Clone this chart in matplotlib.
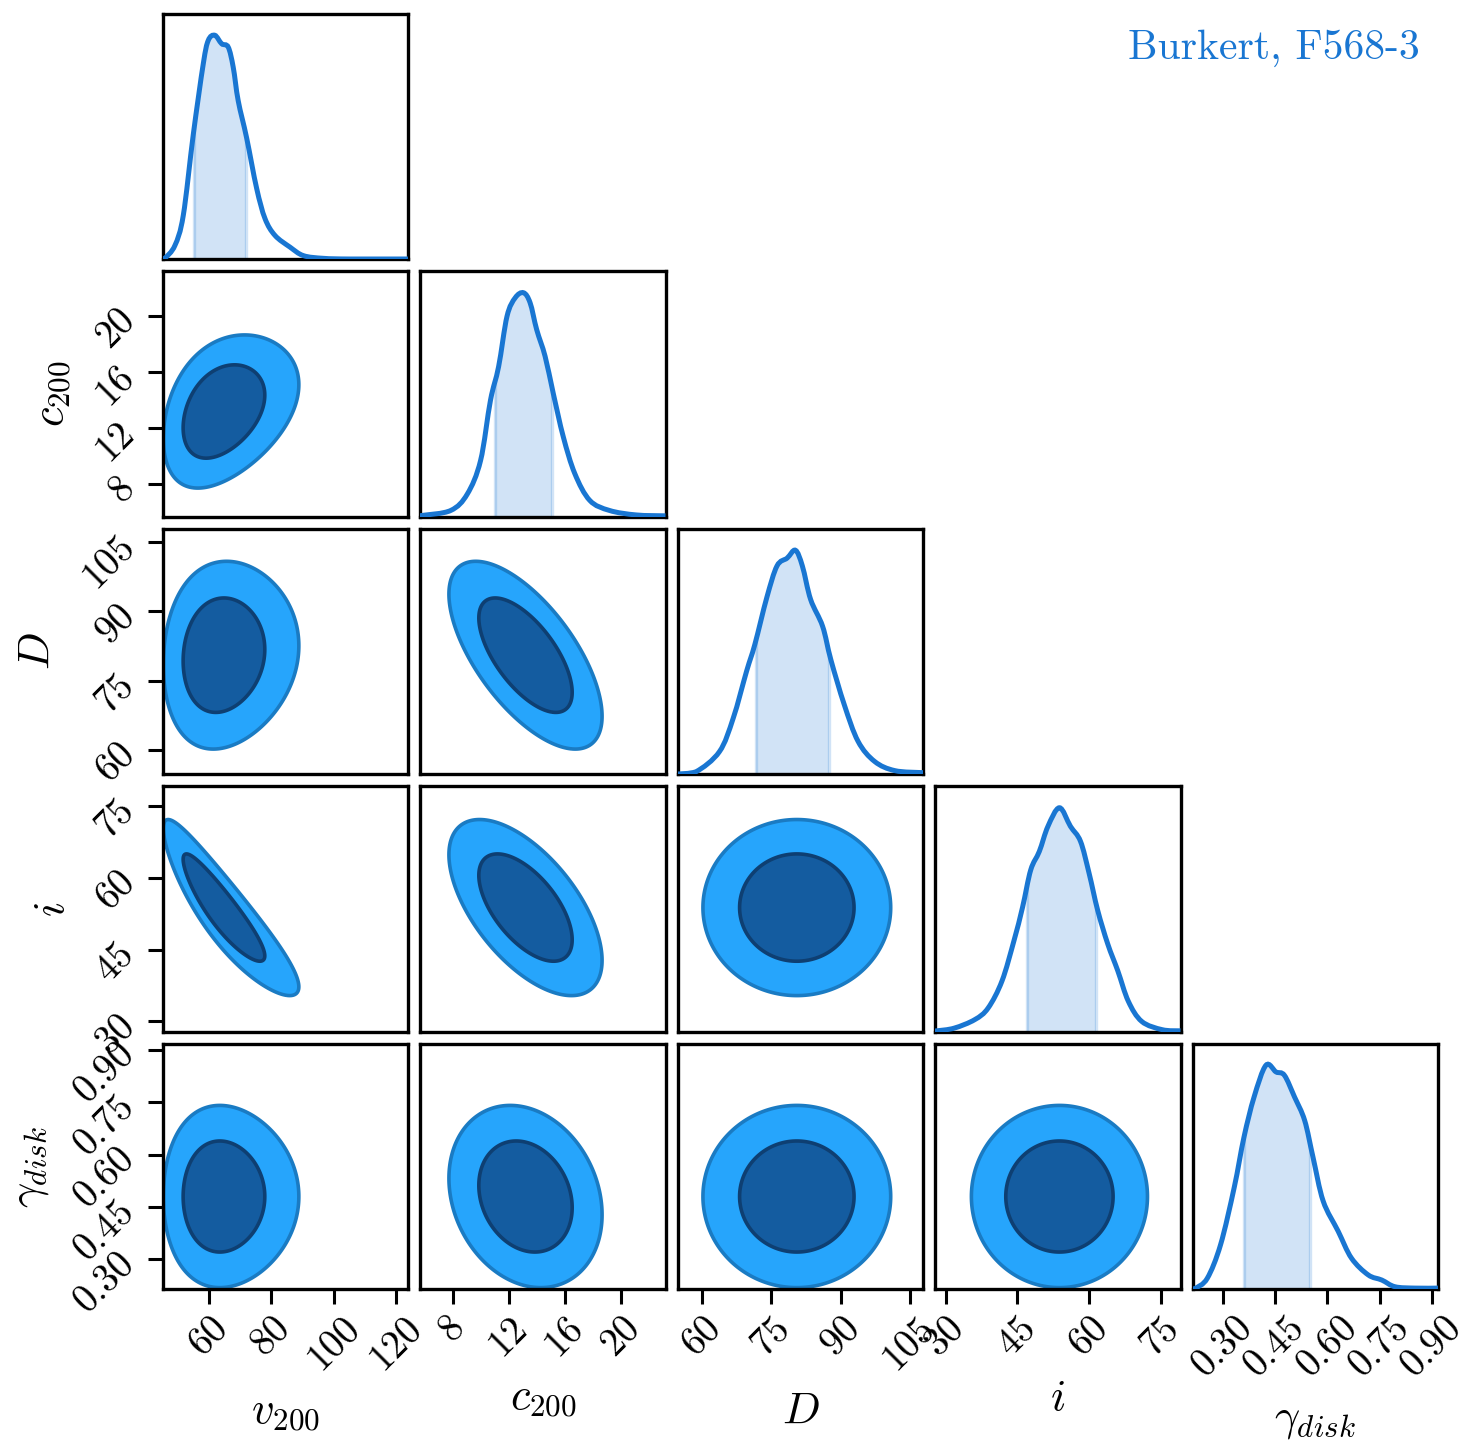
import numpy as np
import matplotlib
matplotlib.use("Agg")
import matplotlib.pyplot as plt
from matplotlib.patches import Rectangle, PathPatch
from matplotlib.path import Path

plt.rcParams['font.family'] = 'serif'
plt.rcParams['font.serif'] = ['cmr10', 'DejaVu Serif']
plt.rcParams['mathtext.fontset'] = 'cm'
plt.rcParams['axes.unicode_minus'] = False

# ---------------- data ----------------
param_labels = [r'$v_{200}$', r'$c_{200}$', r'$D$', r'$i$', r'$\gamma_{disk}$']
axis_ranges = [(45.3, 123.8), (5.7, 23.2), (54.7, 107.9), (27.9, 79.1), (0.215, 0.917)]
tick_values = [[60, 80, 100, 120], [8, 12, 16, 20], [60, 75, 90, 105],
               [30, 45, 60, 75], [0.30, 0.45, 0.60, 0.75, 0.90]]
tick_labels = [['60', '80', '100', '120'], ['8', '12', '16', '20'],
               ['60', '75', '90', '105'], ['30', '45', '60', '75'],
               ['0.30', '0.45', '0.60', '0.75', '0.90']]

# marginal densities (peak normalised to 1)
v200_x = [45.3, 45.9, 49.1, 51.8, 55.0, 58.2, 59.8, 61.9, 64.1, 66.2, 67.8, 69.4, 72.1,
          75.3, 78.0, 81.2, 86.0, 90.3, 96.7, 105.3, 123.8]
v200_y = [0.0, 0.003, 0.06, 0.195, 0.556, 0.872, 0.977, 1.0, 0.962, 0.947, 0.857, 0.707,
          0.541, 0.316, 0.18, 0.105, 0.053, 0.015, 0.003, 0.0, 0.0]
c200_x = [5.7, 5.85, 7.86, 9.04, 9.99, 10.70, 11.28, 11.88, 12.47, 13.06, 13.53, 14.0,
          14.6, 15.18, 15.9, 16.72, 17.79, 19.2, 21.1, 23.2]
c200_y = [0.004, 0.005, 0.027, 0.10, 0.25, 0.52, 0.67, 0.895, 0.978, 1.0, 0.955, 0.835,
          0.716, 0.551, 0.356, 0.192, 0.072, 0.027, 0.007, 0.003]
D_x = [54.7, 58.6, 63.7, 66.7, 69.6, 71.4, 74.0, 76.2, 78.4, 80.2, 81.7, 83.5, 86.1,
       87.9, 90.8, 93.8, 97.4, 101.8, 107.9]
D_y = [0.0, 0.01, 0.10, 0.25, 0.46, 0.58, 0.79, 0.93, 0.965, 1.0, 0.93, 0.78, 0.66,
       0.51, 0.31, 0.146, 0.056, 0.015, 0.006]
i_x = [27.9, 28.2, 31.8, 36.1, 38.9, 41.8, 44.3, 46.1, 47.8, 49.6, 51.4, 53.8, 56.1,
       58.2, 60.0, 61.8, 63.9, 66.0, 68.2, 71.0, 75.3, 79.1]
i_y = [0.002, 0.003, 0.015, 0.053, 0.105, 0.226, 0.406, 0.556, 0.722, 0.805, 0.917, 1.0,
       0.917, 0.85, 0.707, 0.541, 0.391, 0.271, 0.135, 0.045, 0.008, 0.003]
gam_x = [0.215, 0.222, 0.256, 0.294, 0.333, 0.361, 0.39, 0.424, 0.453, 0.477, 0.506,
         0.535, 0.559, 0.588, 0.631, 0.669, 0.717, 0.756, 0.794, 0.852, 0.917]
gam_y = [0.0, 0.003, 0.048, 0.198, 0.453, 0.678, 0.858, 1.0, 0.97, 0.955, 0.858, 0.753,
         0.588, 0.393, 0.258, 0.138, 0.063, 0.04, 0.01, 0.004, 0.004]
marg_x = [v200_x, c200_x, D_x, i_x, gam_x]
marg_y = [v200_y, c200_y, D_y, i_y, gam_y]
# 1-sigma shaded intervals
sigma_lo = [55.3, 11.0, 71.6, 47.0, 0.36]
sigma_hi = [71.8, 15.1, 87.4, 61.4, 0.55]

# 2D contour summary
centres = [63.5, 13.2, 80.5, 53.8, 0.48]
spreads = [0.135, 2.2, 8.2, 7.4, 0.105]     # v200 spread is in log space
log_scale = [True, False, False, False, False]
corr = [[1.00, 0.35, 0.10, -0.90, 0.00],
        [0.35, 1.00, -0.65, -0.60, -0.20],
        [0.10, -0.65, 1.00, 0.00, 0.00],
        [-0.90, -0.60, 0.00, 1.00, 0.00],
        [0.00, -0.20, 0.00, 0.00, 1.00]]
chi2_levels = [2.2958, 6.1801]   # 68% and 95% regions in 2D

# ---------------- style ----------------
line_col = '#1976D2'
fill_col = '#1976D2'
inner_fill = '#145CA0'
outer_fill = '#26A5FC'
inner_edge = '#0E3F72'
outer_edge = '#1A7BC3'

n = 5
fig, axes = plt.subplots(n, n, figsize=(7.4, 7.26), dpi=200)
fig.subplots_adjust(left=163/1480, right=1438/1480, bottom=1-1289/1452, top=1-14/1452,
                    wspace=0.051, hspace=0.051)


def std_coord(vals, k):
    if log_scale[k]:
        return (np.log(vals) - np.log(centres[k])) / spreads[k]
    return (vals - centres[k]) / spreads[k]


def smooth_path(x, y, closed_base=False):
    """Catmull-Rom curve through the read points, as cubic Bezier segments."""
    pts = np.column_stack([x, y])
    verts = [pts[0]]
    codes = [Path.MOVETO]
    m = len(pts)
    for k in range(m - 1):
        p0 = pts[k - 1] if k > 0 else pts[k]
        p1, p2 = pts[k], pts[k + 1]
        p3 = pts[k + 2] if k + 2 < m else pts[k + 1]
        c1 = p1 + (p2 - p0) / 6.0
        c2 = p2 - (p3 - p1) / 6.0
        c1[1] = max(c1[1], 0)
        c2[1] = max(c2[1], 0)
        verts += [c1, c2, p2]
        codes += [Path.CURVE4] * 3
    if closed_base:
        verts += [[x[-1], 0], [x[0], 0], [x[0], 0]]
        codes += [Path.LINETO, Path.LINETO, Path.CLOSEPOLY]
    return Path(verts, codes)


for r in range(n):
    for c in range(n):
        ax = axes[r, c]
        if c > r:
            ax.axis('off')
            continue
        for s in ax.spines.values():
            s.set_linewidth(1.2)
        ax.tick_params(direction='out', length=5.5, width=1.1, labelsize=14, pad=2)
        ax.set_xlim(*axis_ranges[c])
        if r == c:
            x = np.array(marg_x[c], dtype=float)
            y = np.array(marg_y[c], dtype=float)
            ax.add_patch(PathPatch(smooth_path(x, y), fill=False, edgecolor=line_col,
                                   lw=1.8, zorder=3))
            shade = PathPatch(smooth_path(x, y, closed_base=True), facecolor=fill_col,
                              alpha=0.2, edgecolor='none')
            ax.add_patch(shade)
            clip = Rectangle((sigma_lo[c], 0), sigma_hi[c] - sigma_lo[c], 2,
                             transform=ax.transData)
            shade.set_clip_path(clip)
            under = PathPatch(smooth_path(x, y, closed_base=True), transform=ax.transData)
            for b in (sigma_lo[c], sigma_hi[c]):
                ln = ax.axvline(b, color=fill_col, alpha=0.2, lw=1.2)
                ln.set_clip_path(under)
            ax.set_ylim(0, 1.095)
            ax.set_yticks([])
        else:
            ax.set_ylim(*axis_ranges[r])
            gx = np.linspace(*axis_ranges[c], 400)
            gy = np.linspace(*axis_ranges[r], 400)
            X, Y = np.meshgrid(gx, gy)
            ux = std_coord(X, c)
            uy = std_coord(Y, r)
            rho = corr[r][c]
            Q = (ux**2 - 2*rho*ux*uy + uy**2) / (1 - rho**2)
            ax.contourf(X, Y, Q, levels=[-1, chi2_levels[0], chi2_levels[1]],
                        colors=[inner_fill, outer_fill])
            ax.contour(X, Y, Q, levels=chi2_levels, colors=[inner_edge, outer_edge],
                       linewidths=1.3)
            if c == 0:
                ax.set_yticks(tick_values[r])
                ax.set_yticklabels(tick_labels[r], rotation=45)
                ax.set_ylabel(param_labels[r], fontsize=16, labelpad=6)
            else:
                ax.set_yticks([])
        if r == n - 1:
            ax.set_xticks(tick_values[c])
            ax.set_xticklabels(tick_labels[c], rotation=45)
            ax.set_xlabel(param_labels[c], fontsize=16, labelpad=6)
        else:
            ax.set_xticks([])

fig.text(1420/1480, 1-48/1452, 'Burkert, F568-3', color=line_col, fontsize=15,
         ha='right', va='center')

fig.savefig('out.png', dpi=200)
